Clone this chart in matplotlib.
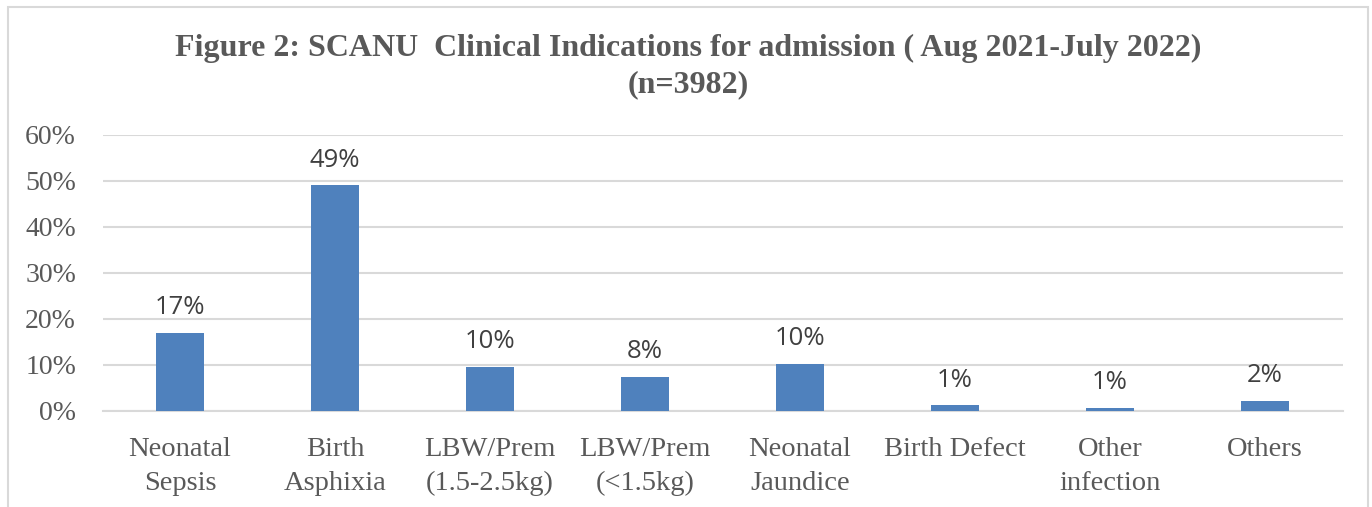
import matplotlib
matplotlib.use("Agg")
import matplotlib.pyplot as plt
from matplotlib.patches import Rectangle
from matplotlib.ticker import PercentFormatter

categories = ["Neonatal\nSepsis", "Birth\nAsphixia", "LBW/Prem\n(1.5-2.5kg)", "LBW/Prem\n(<1.5kg)",
              "Neonatal\nJaundice", "Birth Defect", "Other\ninfection", "Others"]
values = [17.0, 49.1, 9.6, 7.5, 10.3, 1.3, 0.7, 2.2]
labels = ["17%", "49%", "10%", "8%", "10%", "1%", "1%", "2%"]
yticks = [0, 10, 20, 30, 40, 50, 60]

W, H = 1372, 507
fig = plt.figure(figsize=(W / 100, H / 100), dpi=100)
fig.patch.set_facecolor("white")

# chart border
fig.add_artist(Rectangle((8 / W, -0.05), (1368 - 8) / W, 1.05 - 7 / H, transform=fig.transFigure,
                         fill=False, edgecolor="#d9d9d9", linewidth=1.5))

ax = fig.add_axes([102.5 / W, (H - 411) / H, 1240 / W, (411 - 135) / H])
x = list(range(len(categories)))
ax.bar(x, values, width=0.31, color="#4f81bd", zorder=3)
ax.set_xlim(-0.5, len(categories) - 0.5)
ax.set_ylim(0, 60)
ax.set_yticks(yticks)
ax.yaxis.set_major_formatter(PercentFormatter(decimals=0))
ax.grid(axis="y", color="#d9d9d9", linewidth=1.5, zorder=0)
for s in ["top", "right", "left"]:
    ax.spines[s].set_visible(False)
ax.spines["bottom"].set_color("#d9d9d9")
ax.spines["bottom"].set_linewidth(1.5)
ax.tick_params(axis="both", length=0, colors="#595959")
ax.tick_params(axis="y", pad=19, labelsize=20)
ax.tick_params(axis="x", pad=19, labelsize=20.5)
ax.set_xticks(x)
ax.set_xticklabels(categories, fontfamily="Liberation Serif", linespacing=1.45)
for t in ax.get_yticklabels():
    t.set_fontfamily("Liberation Serif")

for xi, v, lab in zip(x, values, labels):
    ax.annotate(lab, (xi, v), xytext=(0, 9), textcoords="offset points", ha="center", va="bottom",
                fontsize=18.5, color="#404040", fontfamily="Open Sans")

fig.text(688 / W, 1 - 48 / H, "Figure 2: SCANU  Clinical Indications for admission ( Aug 2021-July 2022)",
         ha="center", va="center", fontsize=23, fontweight="bold", color="#595959", fontfamily="Liberation Serif")
fig.text(688 / W, 1 - 85 / H, "(n=3982)", ha="center", va="center", fontsize=23, fontweight="bold",
         color="#595959", fontfamily="Liberation Serif")

fig.savefig("out.png", dpi=100)
